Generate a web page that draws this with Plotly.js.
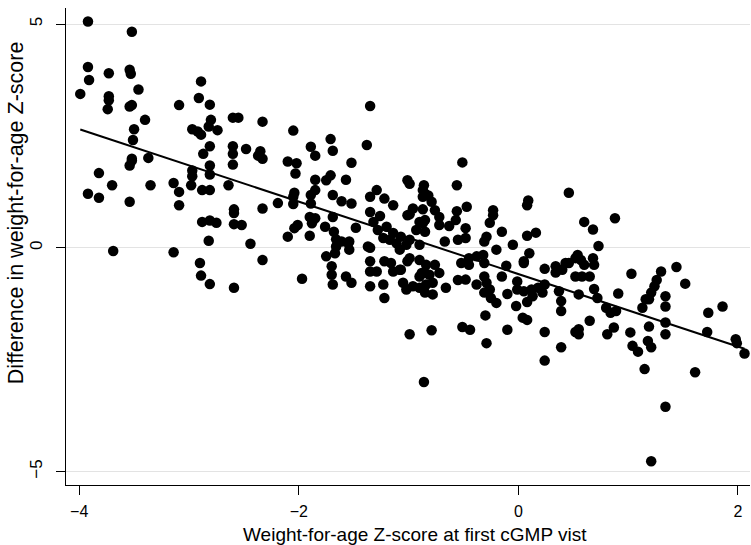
<!DOCTYPE html>
<html><head><meta charset="utf-8">
<script src="https://cdn.plot.ly/plotly-3.0.1.min.js"></script>
<style>html,body{margin:0;padding:0;background:#fff}#chart{width:751px;height:545px}</style>
</head><body><div id="chart"></div>
<script>
const xTickVals = [-4, -2, 0, 2];
const yTickVals = [-5, 0, 5];
const xTitle = 'Weight-for-age Z-score at first cGMP vist';
const yTitle = 'Difference in weight-for-age Z-score';

// Weight-for-age Z-score at first visit
const wazFirst = [
  -3.92,-3.52,-3.92,-3.91,-3.99,-3.73,-3.73,-3.73,-3.74,-3.54,-3.53,-3.46,-3.54,-3.52,-3.40,-3.50,-3.51,-3.52,-3.37,-3.09,-2.89,-2.91,-2.81,-2.80,-2.82,-2.97,-2.89,-2.74,-2.92,-2.81,-2.87,-2.60,-2.55,-2.60,-2.60,
  -2.60,-3.52,-3.54,-3.82,-3.70,-3.92,-3.82,-3.54,-3.35,-3.14,-3.09,-3.09,-2.97,-2.97,-2.98,-2.81,-2.81,-2.88,-2.81,-2.64,-2.59,-2.59,-2.88,-2.81,-2.75,-2.59,-2.82,-3.69,-3.14,-2.90,-2.89,-2.81,-2.59,
  -2.33,-2.05,-2.48,-2.35,-2.37,-2.33,-2.10,-2.02,-2.03,-2.33,-2.19,-2.05,-2.05,
  -1.35,-1.89,-1.71,-1.69,-1.85,-1.38,-1.52,-1.85,-1.75,-1.71,-1.57,-2.04,-1.89,-1.85,-1.89,-1.69,-1.61,-1.52,-2.52,-1.90,-1.85,-1.88,-2.01,-2.04,-2.10,-1.90,-1.76,-1.69,-1.68,-1.66,-1.48,-2.44,-1.35,-1.29,-1.22,-1.14,-1.35,-1.26,-1.32,-1.01,-1.01,-1.28,-1.20,-1.14,-1.07,-1.23,-1.11,-1.02,-1.66,-1.55,-1.37,
  -0.99,-0.87,-0.85,-1.61,-1.54,-1.54,-1.35,-1.17,-1.08,-0.87,-0.85,-0.93,-0.99,-0.90,-1.97,-1.75,-1.67,-1.70,-1.70,-1.69,-1.57,-1.52,-1.35,-1.35,-1.29,-1.35,-1.22,-1.16,-1.08,-1.14,-1.23,-1.22,-1.05,-0.96,-0.90,-0.84,-0.90,-0.85,-0.99,-0.90,
  -2.33,-1.02,-0.99,
  -0.51,-0.86,-0.87,-0.82,-0.56,0.46,0.09,0.08,-0.79,-0.76,-0.72,-0.96,-0.99,-0.87,-0.90,-0.85,-0.56,-0.57,-0.47,-0.23,-0.23,-0.26,-0.15,-0.72,-0.63,-0.48,-0.48,-0.55,-0.67,-0.29,-0.31,0.08,0.16,-0.05,0.10,0.05,0.43,0.52,-0.20,-0.32,-0.38,-0.45,0.34,
  -1.01,-0.84,-0.76,-0.52,-0.45,-0.31,-0.11,0.05,0.24,0.34,0.40,0.46,0.52,-1.07,-0.88,-0.81,-0.72,-0.78,-0.78,-0.85,-0.66,-0.55,-0.48,-0.38,-0.31,-0.29,-0.26,-0.31,-0.25,-0.20,-0.15,-0.10,-0.01,-0.01,0.05,0.12,0.18,0.13,0.22,0.24,-0.02,0.08,0.04,0.08,-0.30,0.37,0.39,0.39,-0.79,-0.51,-0.44,-0.29,-0.10,0.24,0.39,0.24,0.52,-0.86,
  0.60,0.68,0.88,0.73,0.54,0.57,0.60,0.68,0.69,0.58,0.65,1.03,1.30,1.44,1.26,1.24,1.21,1.16,1.13,1.19,1.52,0.69,0.55,0.72,0.91,1.34,1.34,0.80,0.84,0.89,0.65,0.55,0.55,0.87,0.81,1.02,1.19,1.34,1.34,1.73,1.86,1.72,1.98,
  1.04,1.09,1.18,1.21,1.99,2.06,1.15,1.61,1.34,1.21
];

// Difference in weight-for-age Z-score
const wazDiff = [
  5.06,4.83,4.04,3.75,3.44,3.90,3.39,3.30,3.10,3.98,3.89,3.54,3.16,3.19,2.86,2.65,2.41,1.99,2.01,3.19,3.72,3.35,3.20,2.86,2.71,2.65,2.53,2.63,2.60,2.27,2.10,2.91,2.91,2.27,2.10,
  1.86,1.95,1.84,1.67,1.40,1.21,1.12,1.03,1.40,1.45,1.25,0.95,1.73,1.60,1.40,1.84,1.64,1.29,1.29,1.40,0.86,0.78,0.58,0.61,0.56,0.53,0.16,-0.07,-0.10,-0.34,-0.62,-0.81,-0.89,
  2.82,2.62,2.21,2.16,2.06,1.99,1.93,1.89,1.66,0.88,1.00,1.14,0.98,
  3.17,2.26,2.43,2.17,2.06,2.30,1.90,1.52,1.51,1.62,1.52,1.23,1.18,1.29,0.99,1.18,1.04,0.99,0.51,0.69,0.66,0.55,0.51,0.44,0.25,0.27,0.47,0.69,0.36,0.19,0.45,0.09,1.14,1.29,1.10,0.95,0.80,0.71,0.58,1.51,0.73,0.40,0.47,0.33,0.25,0.22,0.10,0.07,0.03,0.10,0.03,
  1.43,1.29,1.21,0.14,0.14,-0.04,0.00,0.18,-0.04,0.55,0.36,0.40,0.18,0.07,-0.69,-0.19,-0.12,-0.41,-0.60,-0.82,-0.64,-0.78,-0.30,-0.53,-0.53,-0.86,-0.30,-0.34,-0.49,-0.53,-0.82,-1.12,-0.78,-0.86,-0.89,-0.82,-0.64,-0.56,-0.23,-0.27,
  -0.27,-0.93,-1.93,
  1.91,1.40,1.14,1.17,1.40,1.23,1.06,0.95,1.03,0.84,0.69,0.88,0.75,0.86,0.58,0.62,0.82,0.62,0.92,0.84,0.73,0.56,0.36,0.51,0.49,0.44,0.22,0.18,0.14,0.25,0.14,0.27,0.34,0.07,-0.12,-0.30,-0.34,-0.23,-0.04,-0.16,-0.19,-0.23,-0.41,
  -0.30,-0.38,-0.38,-0.34,-0.38,-0.34,-0.40,-0.34,-0.47,-0.55,-0.49,-0.34,-0.64,-0.49,-0.56,-0.60,-0.56,-0.78,-1.04,-1.00,-0.89,-0.72,-0.71,-0.82,-0.64,-0.78,-0.93,-1.00,-1.12,-1.23,-0.64,-1.03,-0.75,-0.93,-0.97,-0.93,-0.89,-1.08,-1.00,-0.82,-1.30,-1.21,-1.56,-1.61,-1.51,-0.97,-1.19,-1.41,-1.84,-1.77,-1.83,-2.13,-1.83,-1.88,-2.22,-2.52,-1.88,-3.00,
  0.58,0.41,0.66,0.04,-0.16,-0.27,-0.38,-0.23,-0.38,-0.64,-0.64,-0.58,-0.53,-0.43,-0.72,-0.86,-1.00,-1.15,-1.34,-1.15,-0.80,-0.92,-1.04,-1.12,-1.02,-1.08,-1.31,-1.34,-1.45,-1.41,-1.63,-1.82,-1.93,-1.78,-1.93,-1.89,-1.76,-1.67,-1.93,-1.45,-1.31,-1.88,-2.04,
  -2.19,-2.32,-2.08,-2.22,-2.13,-2.36,-2.71,-2.78,-3.55,-4.77
];

// Linear fit (OLS) computed from the data
const n = Math.min(wazFirst.length, wazDiff.length);
const xs = wazFirst.slice(0, n), ys = wazDiff.slice(0, n);
const mx = xs.reduce((a, b) => a + b, 0) / n;
const my = ys.reduce((a, b) => a + b, 0) / n;
let sxy = 0, sxx = 0;
for (let i = 0; i < n; i++) { sxy += (xs[i] - mx) * (ys[i] - my); sxx += (xs[i] - mx) ** 2; }
const slope = sxy / sxx, intercept = my - slope * mx;
const xMin = Math.min(...xs), xMax = Math.max(...xs);
const fitX = [xMin, xMax];
const fitY = fitX.map(v => intercept + slope * v);

const font = 'Liberation Sans, Arial, sans-serif';
const minusLabel = v => v < 0 ? '\u2212' + Math.abs(v) : String(v);
const traces = [
  { type: 'scatter', mode: 'markers', x: xs, y: ys,
    marker: { color: '#000', size: 10.5, line: { width: 0 } }, hoverinfo: 'skip' },
  { type: 'scatter', mode: 'lines', x: fitX, y: fitY,
    line: { color: '#000', width: 2 }, hoverinfo: 'skip' }
];
const layout = {
  width: 751, height: 545, showlegend: false,
  paper_bgcolor: '#fff', plot_bgcolor: '#fff',
  margin: { l: 66, r: 1, t: 8, b: 60 },
  font: { family: font, color: '#000' },
  xaxis: {
    range: [-4.12, 2.11], tickvals: xTickVals, ticktext: xTickVals.map(minusLabel),
    ticks: 'outside', ticklen: 9, tickwidth: 1, tickcolor: '#000',
    ticklabelstandoff: 3,
    showline: true, linecolor: '#000', linewidth: 1, showgrid: false, zeroline: false,
    tickfont: { size: 16, family: font }
  },
  yaxis: {
    range: [-5.3, 5.36], tickvals: yTickVals, ticktext: yTickVals.map(minusLabel),
    tickangle: -90,
    ticks: 'outside', ticklen: 9, tickwidth: 1, tickcolor: '#000',
    ticklabelstandoff: 7,
    showline: true, linecolor: '#000', linewidth: 1,
    showgrid: true, gridcolor: '#e3e3e3', gridwidth: 1, zeroline: false,
    tickfont: { size: 17, family: font }
  },
  annotations: [
    { text: xTitle, xref: 'paper', yref: 'paper', x: 0.51, y: -0.103,
      xanchor: 'center', yanchor: 'middle', showarrow: false,
      font: { size: 19, family: font, color: '#000' } },
    { text: yTitle, xref: 'paper', yref: 'paper', x: -0.073, y: 0.57,
      xanchor: 'center', yanchor: 'middle', textangle: -90, showarrow: false,
      font: { size: 21.5, family: font, color: '#000' } }
  ]
};
Plotly.newPlot('chart', traces, layout, { staticPlot: true, displayModeBar: false });
</script>
</body></html>
